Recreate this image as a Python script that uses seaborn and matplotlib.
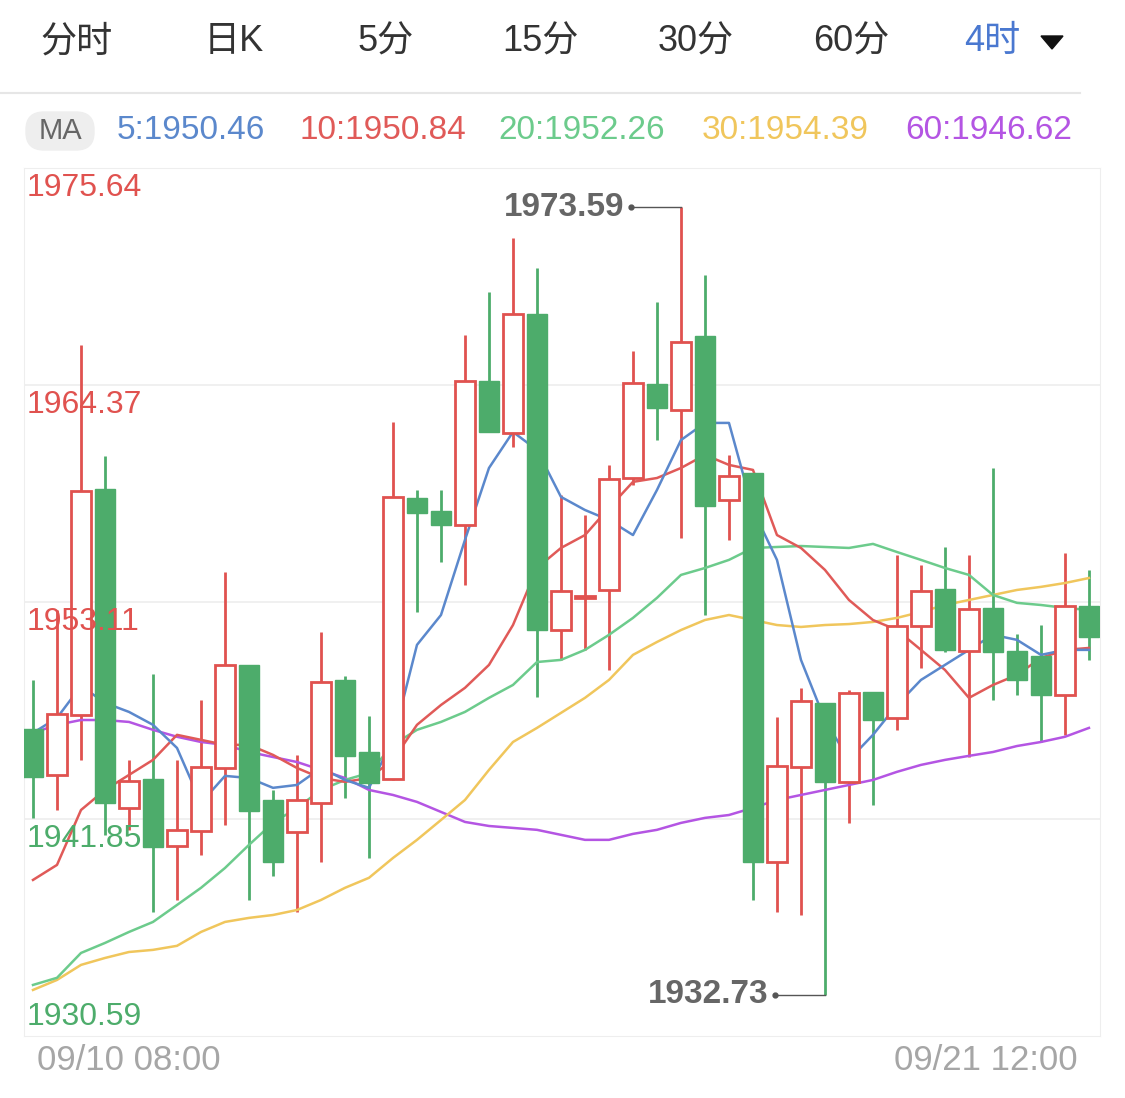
import matplotlib
matplotlib.use("Agg")
import matplotlib.pyplot as plt
import seaborn as sns
import pandas as pd
import numpy as np

plt.rcParams["font.family"] = ["Liberation Sans", "Noto Sans CJK SC", "DejaVu Sans"]

opens = [1946.53,1944.14,1947.25,1958.98,1942.43,1943.93,1940.45,1941.24,1944.51,1949.85,
         1942.84,1941.19,1942.69,1949.07,1945.33,1943.93,1958.52,1957.84,1957.11,1964.59,
         1961.89,1968.06,1951.66,1953.33,1953.74,1959.55,1964.43,1963.08,1966.92,1958.41,
         1959.81,1939.63,1944.56,1947.88,1943.78,1948.45,1947.10,1951.87,1953.79,1950.58,
         1952.81,1950.58,1950.32,1948.29,1952.91]
closes = [1944.04,1947.31,1958.88,1942.69,1943.83,1940.40,1941.29,1944.56,1949.85,1942.27,
          1939.63,1942.84,1948.97,1945.13,1943.72,1958.57,1957.74,1957.11,1964.59,1961.94,
          1968.06,1951.66,1953.69,1953.43,1959.50,1964.48,1963.19,1966.61,1958.10,1959.66,
          1939.63,1944.61,1947.98,1943.78,1948.40,1946.99,1951.87,1953.69,1950.63,1952.75,
          1950.52,1949.07,1948.29,1952.91,1951.30]
highs = [1949.07,1952.70,1966.45,1960.69,1944.92,1949.38,1944.92,1948.03,1954.67,1949.85,
         1943.36,1945.18,1951.56,1949.28,1947.20,1962.46,1958.93,1958.93,1966.97,1969.21,
         1972.01,1970.45,1958.67,1957.63,1960.23,1966.14,1968.69,1973.59,1970.09,1960.75,
         1959.81,1947.15,1948.66,1947.88,1948.55,1948.45,1955.56,1955.04,1955.97,1955.56,
         1960.07,1951.46,1951.92,1955.66,1954.78]
lows = [1941.91,1942.32,1944.92,1941.03,1941.29,1937.03,1937.65,1939.99,1941.55,1937.65,
        1938.90,1937.03,1939.63,1942.95,1939.83,1943.88,1952.60,1955.19,1954.00,1961.94,
        1961.16,1948.19,1950.11,1950.63,1949.59,1959.19,1961.52,1956.44,1952.44,1956.34,
        1937.65,1937.03,1936.87,1932.73,1941.65,1942.58,1946.48,1949.69,1950.52,1945.07,
        1948.03,1948.29,1945.85,1946.22,1950.11]
ma5 = [1946.32,1947.10,1948.76,1947.88,1947.41,1946.74,1945.54,1942.69,1944.09,1943.98,
       1943.47,1943.62,1944.50,1943.88,1943.47,1945.96,1950.89,1952.44,1956.34,1960.07,
       1961.94,1961.01,1958.57,1957.89,1957.37,1956.59,1958.93,1961.52,1962.41,1962.41,
       1957.89,1955.30,1950.11,1946.99,1944.92,1946.22,1947.77,1949.07,1949.85,1950.63,
       1951.41,1951.15,1950.37,1950.63,1950.63]
ma10 = [1938.69,1939.47,1942.32,1943.36,1944.14,1944.92,1946.22,1945.96,1945.70,1945.70,
        1945.18,1944.50,1943.98,1943.78,1943.98,1944.92,1946.74,1947.77,1948.66,1949.85,
        1951.92,1954.88,1955.92,1956.59,1958.00,1959.35,1959.55,1960.07,1960.75,1960.23,
        1959.97,1956.59,1955.92,1954.78,1953.22,1952.18,1951.66,1950.63,1949.59,1948.14,
        1948.81,1949.33,1950.21,1950.63,1950.73]
ma20 = [1933.24,1933.61,1934.90,1935.42,1935.99,1936.51,1937.39,1938.28,1939.31,1940.51,
        1941.65,1942.43,1943.36,1943.88,1944.24,1945.70,1946.48,1946.89,1947.41,1948.14,
        1948.81,1950.00,1950.11,1950.63,1951.41,1952.29,1953.33,1954.52,1954.88,1955.30,
        1955.92,1955.97,1956.02,1955.97,1955.92,1956.13,1955.71,1955.30,1954.88,1954.52,
        1953.48,1953.07,1952.96,1952.81,1952.70]
ma30 = [1932.98,1933.50,1934.28,1934.64,1934.95,1935.06,1935.27,1935.99,1936.51,1936.72,
        1936.87,1937.13,1937.65,1938.28,1938.80,1939.83,1940.77,1941.80,1942.84,1944.40,
        1945.85,1946.58,1947.36,1948.14,1949.07,1950.37,1951.04,1951.66,1952.18,1952.44,
        1952.18,1951.92,1951.82,1951.92,1951.97,1952.08,1952.29,1952.60,1952.96,1953.22,
        1953.48,1953.74,1953.90,1954.10,1954.36]
ma60 = [1946.32,1946.74,1946.99,1946.99,1946.89,1946.48,1946.12,1945.85,1945.70,1945.33,
        1945.07,1944.81,1944.40,1943.98,1943.36,1943.10,1942.74,1942.22,1941.70,1941.49,
        1941.39,1941.29,1941.03,1940.77,1940.77,1941.08,1941.29,1941.65,1941.91,1942.06,
        1942.43,1942.84,1943.10,1943.36,1943.62,1943.88,1944.30,1944.66,1944.92,1945.13,
        1945.33,1945.64,1945.85,1946.12,1946.58]
tabs = ["分时", "日K", "5分", "15分", "30分", "60分", "4时"]
ma_labels = ["5:1950.46", "10:1950.84", "20:1952.26", "30:1954.39", "60:1946.62"]
y_ticks = [1975.64, 1964.37, 1953.11, 1941.85, 1930.59]
x_labels = ["09/10 08:00", "09/21 12:00"]

RED = "#e0524f"; GREEN = "#4dac6b"
MA_COLORS = ["#5b88cc", "#e05a58", "#6ccb8c", "#f0c65c", "#b455e3"]

W, H = 1125, 1098
fig = plt.figure(figsize=(W/100, H/100), dpi=100)
fig.patch.set_facecolor("white")

tab_x = [77, 234, 386, 540, 696, 851, 992]
for t, x in zip(tabs, tab_x):
    fig.text(x/W, 1-42/H, t, ha="center", va="center", fontsize=26,
             color="#4a78d0" if t == "4时" else "#333333")
fig.patches.append(matplotlib.patches.Polygon(
    [[1041/W, 1-36/H], [1063/W, 1-36/H], [1052/W, 1-49/H]], closed=True,
    transform=fig.transFigure, color="#111111"))
fig.add_artist(matplotlib.lines.Line2D([0, 1080/W], [1-93/H, 1-93/H], color="#e6e6e6", lw=1.5))

fig.patches.append(matplotlib.patches.FancyBboxPatch(
    (26/W, 1-150/H), 68/W, 38/H, boxstyle="round,pad=0,rounding_size=0.016",
    transform=fig.transFigure, color="#eeeeee"))
fig.text(60/W, 1-131/H, "MA", ha="center", va="center", fontsize=21, color="#666666")
leg_x = [117, 300, 498, 702, 905]
for lab, x, c in zip(ma_labels, leg_x, MA_COLORS):
    fig.text(x/W, 1-131/H, lab, ha="left", va="center", fontsize=24, color=c)

ax = fig.add_axes([24/W, 1-1036/H, (1100-24)/W, (1036-168)/H])
n = len(opens)
idx = np.arange(n)
ax.set_xlim(-0.375, 44.46)
ax.set_ylim(1930.59, 1975.64)
for yv in y_ticks[1:4]:
    ax.axhline(yv, color="#eeeeee", lw=1.2, zorder=0)

df = pd.DataFrame({"i": idx, "ma5": ma5, "ma10": ma10, "ma20": ma20, "ma30": ma30, "ma60": ma60})
for col, c in zip(["ma60", "ma30", "ma20", "ma10", "ma5"], MA_COLORS[::-1]):
    sns.lineplot(data=df, x="i", y=col, ax=ax, color=c, lw=1.8, zorder=3)
ax.set_xlabel(""); ax.set_ylabel("")
ax.set_xticks([]); ax.set_yticks([])
for s in ax.spines.values():
    s.set_color("#eeeeee")

bw = 0.8
for i in idx:
    o, c, h, l = opens[i], closes[i], highs[i], lows[i]
    up = c >= o
    col = RED if up else GREEN
    ax.vlines(i, l, h, color=col, lw=2, zorder=2)
    bot, top = min(o, c), max(o, c)
    if up:
        ax.add_patch(matplotlib.patches.Rectangle((i-bw/2, bot), bw, max(top-bot, 0.08),
                     facecolor="white", edgecolor=col, lw=2, zorder=4))
    else:
        ax.add_patch(matplotlib.patches.Rectangle((i-bw/2, bot), bw, max(top-bot, 0.08),
                     facecolor=col, edgecolor=col, lw=1, zorder=4))

ycols = [RED, RED, RED, GREEN, GREEN]
for yv, c in zip(y_ticks, ycols):
    va = "bottom" if yv == y_ticks[-1] else "top"
    ax.text(0.002, yv + (0.2 if va == "bottom" else -0.25), f"{yv:.2f}",
            transform=ax.get_yaxis_transform(), ha="left", va=va, fontsize=23, color=c, zorder=6)

hi_i = int(np.argmax(highs)); lo_i = int(np.argmin(lows))
for idx_e, val in [(hi_i, highs[hi_i]), (lo_i, lows[lo_i])]:
    ax.plot([idx_e-2.1, idx_e], [val]*2, color="#555555", lw=1, zorder=5)
    ax.plot(idx_e-2.1, val, "o", color="#555555", ms=3.5, zorder=5)
    ax.text(idx_e-2.35, val, f"{val:.2f}", ha="right", va="center",
            fontsize=24, color="#666666", fontweight="semibold", zorder=6)

fig.text(37/W, 1-1060/H, x_labels[0], ha="left", va="center", fontsize=25, color="#a6a6a6")
fig.text(1078/W, 1-1060/H, x_labels[1], ha="right", va="center", fontsize=25, color="#a6a6a6")

fig.savefig("out.png", dpi=100)
